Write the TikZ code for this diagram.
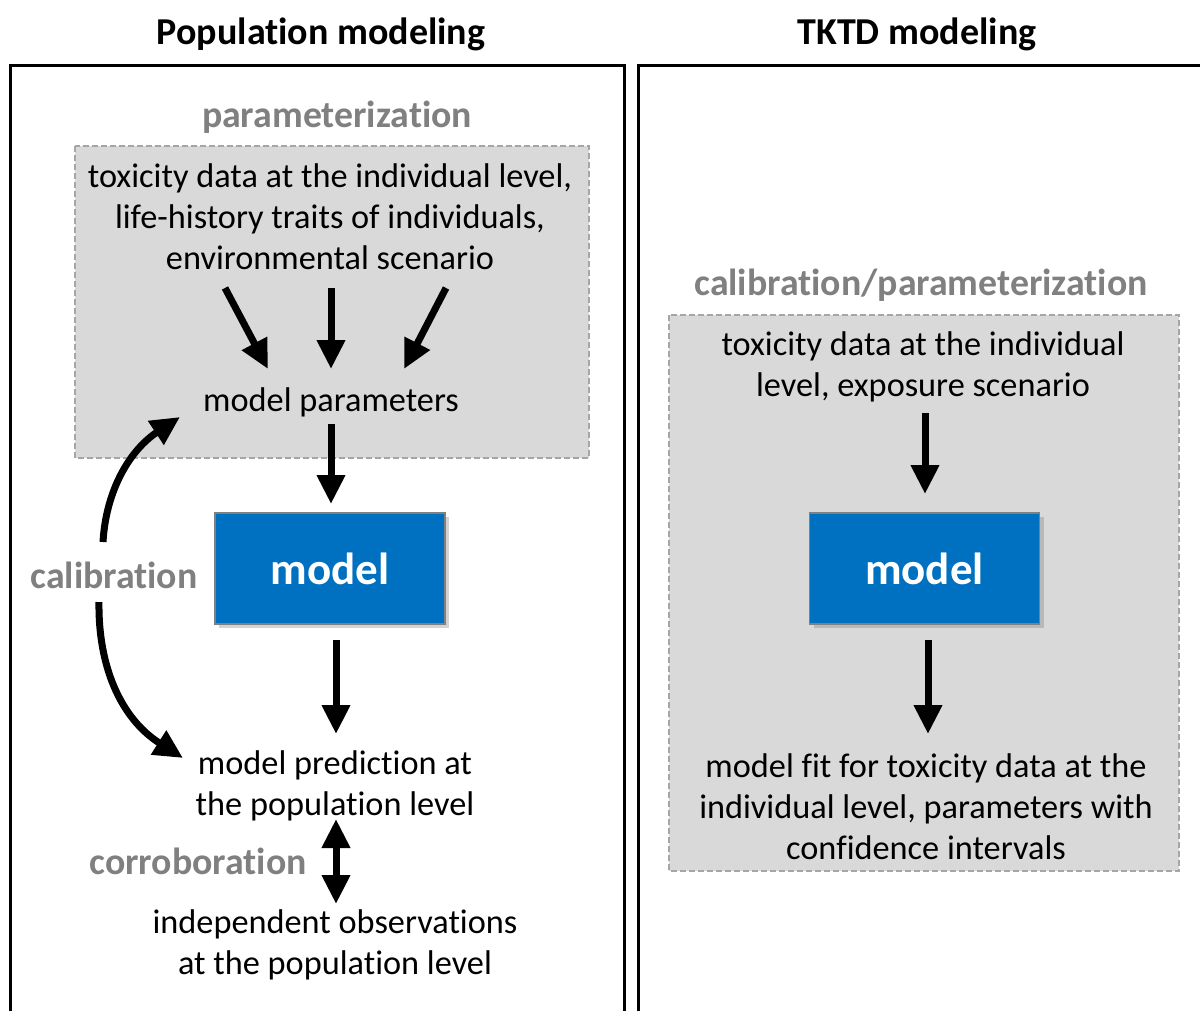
\documentclass[tikz,border=0pt]{standalone}
\usepackage{fontspec}
\setmainfont{Carlito}[Ligatures=NoCommon]
\usetikzlibrary{arrows.meta,shadows}
\definecolor{modelblue}{HTML}{0070C0}
\definecolor{boxgray}{HTML}{D9D9D9}
\definecolor{dashgray}{HTML}{A6A6A6}
\definecolor{labgray}{HTML}{808080}
\tikzset{
  body/.style={align=center,inner sep=0pt,font=\fontsize{34.3}{41}\selectfont},
  ttl/.style={inner sep=0pt,font=\fontsize{38}{44}\selectfont\bfseries},
  lab/.style={inner sep=0pt,text=labgray,font=\fontsize{37.8}{44}\selectfont\bfseries},
  pbox/.style={draw=dashgray,fill=boxgray,line width=2pt,dash pattern=on 6pt off 3pt},
  modelbox/.style={draw=gray,fill=modelblue,line width=1.5pt,minimum width=230pt,minimum height=111pt,
    text=white,font=\fontsize{45}{52}\selectfont\bfseries,
    drop shadow={shadow xshift=4pt,shadow yshift=-4pt,opacity=0.35}},
  frame/.style={line width=3pt,draw=black},
  arr/.style={line width=7pt,-{Triangle[length=29pt,width=27pt]}},
  darr/.style={line width=7pt,{Triangle[length=29pt,width=27pt]}-{Triangle[length=29pt,width=27pt]}},
}
\begin{document}
\begin{tikzpicture}[x=1pt,y=-1pt]
\useasboundingbox (0,0) rectangle (1200,1010);
\begin{scope}
\clip (0,0) rectangle (1200,1010);
% frames
\draw[frame] (10,1020) -- (10,65) -- (624,65) -- (624,1020);
\draw[frame] (638,1020) -- (638,65) -- (1210,65);
% titles
\node[ttl] (t1) at (321,34) {Population modeling};
\node[ttl] (t2) at (917,34) {TKTD modeling};
% ---- left panel
\node[lab] (param) at (337,117) {parameterization};
\draw[pbox] (75,146) rectangle (589,458);
\node[body] (inputs) at (330,217) {toxicity data at the individual level,\\life-history traits of individuals,\\environmental scenario};
\node[body] (mp) at (331,402) {model parameters};
\coordinate (a1s) at (225,288);
\coordinate (a1e) at (268,369);
\coordinate (a2s) at (331,288);
\coordinate (a2e) at (331,369);
\coordinate (a3s) at (446,288);
\coordinate (a3e) at (404,369);
\draw[arr] (a1s) -- (a1e);
\draw[arr] (a2s) -- (a2e);
\draw[arr] (a3s) -- (a3e);
\node[modelbox] (m1) at (330,568.5) {model};
\coordinate (mpb) at (331,424);
\coordinate (m1t) at (331,504);
\draw[arr] (mpb) -- (m1t);
\node[body] (pred) at (335,786) {model prediction at\\the population level};
\coordinate (m1b) at (336,640);
\coordinate (predt) at (336,734);
\draw[arr] (m1b) -- (predt);
\node[lab] (calib) at (114,575) {calibration};
\coordinate (cu) at (103,542);
\coordinate (cue) at (180,417);
\coordinate (cl) at (99,602);
\coordinate (cle) at (183,758);
\draw[arr] (cu) .. controls (106,490) and (130,450) .. (cue);
\draw[arr] (cl) .. controls (98,665) and (120,718) .. (cle);
\node[lab] (corr) at (198,861) {corroboration};
\coordinate (ct) at (336,819);
\coordinate (cb) at (336,904);
\draw[darr] (ct) -- (cb);
\node[body] (obs) at (335,945) {independent observations\\at the population level};
% ---- right panel
\node[lab] (cparam) at (921,285) {calibration/parameterization};
\draw[pbox] (669,315) rectangle (1179,871);
\node[body] (rin) at (923,367) {toxicity data at the individual\\level, exposure scenario};
\node[modelbox] (m2) at (924.5,568.5) {model};
\coordinate (rint) at (925,413);
\coordinate (m2t) at (925,494);
\draw[arr] (rint) -- (m2t);
\node[body] (fit) at (926,807) {model fit for toxicity data at the\\individual level, parameters with\\confidence intervals};
\coordinate (m2b) at (928,640);
\coordinate (fitt) at (928,734);
\draw[arr] (m2b) -- (fitt);
\end{scope}
\end{tikzpicture}
\end{document}
